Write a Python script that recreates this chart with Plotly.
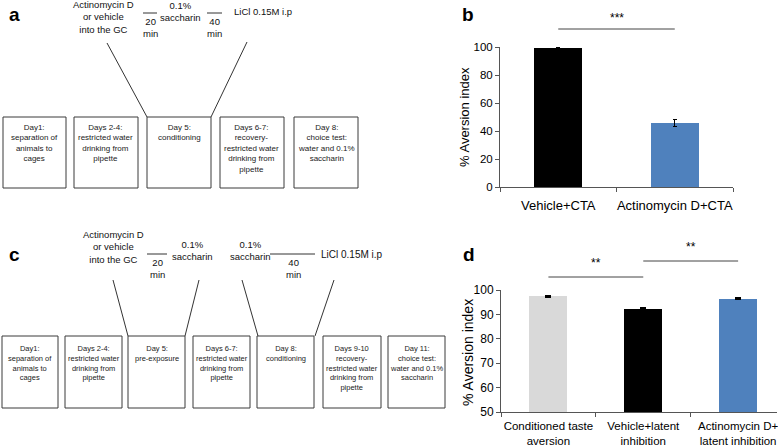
import plotly.graph_objects as go

W, H = 778, 447

# ---------------- data ----------------
b_categories = ["Vehicle+CTA", "Actinomycin D+CTA"]
b_values = [99.2, 45.5]
b_errors = [0.3, 2.5]
b_colors = ["#000000", "#4f81bd"]
b_ticks = [0, 20, 40, 60, 80, 100]

d_categories = ["Conditioned taste<br>aversion", "Vehicle+latent<br>inhibition", "Actinomycin D+<br>latent inhibition"]
d_values = [97.4, 92.4, 96.4]
d_errors = [0.25, 0.15, 0.3]
d_colors = ["#d9d9d9", "#000000", "#4f81bd"]
d_ticks = [50, 60, 70, 80, 90, 100]

a_boxes = [
    ["Day1:", "separation of", "animals to", "cages"],
    ["Days 2-4:", "restricted water", "drinking from", "pipette"],
    ["Day 5:", "conditioning"],
    ["Days 6-7:", "recovery-", "restricted water", "drinking from", "pipette"],
    ["Day 8:", "choice test:", "water and 0.1%", "saccharin"],
]
c_boxes = [
    ["Day1:", "separation of", "animals to", "cages"],
    ["Days 2-4:", "restricted water", "drinking from", "pipette"],
    ["Day 5:", "pre-exposure"],
    ["Days 6-7:", "restricted water", "drinking from", "pipette"],
    ["Day 8:", "conditioning"],
    ["Days 9-10", "recovery-", "restricted water", "drinking from", "pipette"],
    ["Day 11:", "choice test:", "water and 0.1%", "saccharin"],
]

REG = "Liberation Sans, Arial, Helvetica, sans-serif"


def px(x):
    return x / W


def py(y):
    return 1 - y / H


shapes = []
annotations = []


def line(x0, y0, x1, y1, color="#333333", width=1):
    shapes.append(dict(type="line", xref="paper", yref="paper",
                       x0=px(x0), y0=py(y0), x1=px(x1), y1=py(y1),
                       line=dict(color=color, width=width)))


def rect(x0, y0, x1, y1):
    shapes.append(dict(type="rect", xref="paper", yref="paper",
                       x0=px(x0), y0=py(y0), x1=px(x1), y1=py(y1),
                       line=dict(color="#3a3a3a", width=1), fillcolor="rgba(0,0,0,0)"))


def text(x, y, s, size=9, anchor="center", yanchor="middle", color="#111111", bold=False, angle=0):
    if bold:
        s = "<b>" + s + "</b>"
    annotations.append(dict(xref="paper", yref="paper", x=px(x), y=py(y), text=s,
                            showarrow=False, xanchor=anchor, yanchor=yanchor,
                            textangle=angle, borderpad=0,
                            font=dict(size=size, family=REG, color=color)))


def block(x, y, items, size=9, **kw):
    text(x, y, "<br>".join(items), size=size, **kw)


TOP = 9.5

# ---------------- panel a diagram ----------------
text(14, 14, "a", size=19, bold=True, color="#000")
block(104, 17, ["Actinomycin D", "or vehicle", "into the GC"], size=TOP)
line(143, 13, 157, 13)
block(150, 27, ["20", "min"], size=TOP)
block(180, 11, ["0.1%", "saccharin"], size=TOP)
line(207, 13, 222, 13)
block(214, 27, ["40", "min"], size=TOP)
text(233, 12, "LiCl 0.15M i.p", size=TOP, anchor="left")
line(107, 43, 147, 117)
line(247, 42, 211, 117)

a_x = [(3, 66), (74, 138), (147, 211), (220, 284), (294, 358)]
for (x0, x1), items in zip(a_x, a_boxes):
    rect(x0, 117, x1, 188)
    block((x0 + x1) / 2, 122, items, size=8, yanchor="top", color="#222")

# ---------------- panel c diagram ----------------
text(14, 254, "c", size=19, bold=True, color="#000")
block(113, 247, ["Actinomycin D", "or vehicle", "into the GC"], size=TOP)
line(147, 254, 167, 254)
block(157, 268, ["20", "min"], size=TOP)
block(192, 250, ["0.1%", "saccharin"], size=TOP)
block(250, 250, ["0.1%", "saccharin"], size=TOP)
line(270, 254, 315, 254)
block(293, 268, ["40", "min"], size=TOP)
text(320, 254, "LiCl 0.15M i.p", size=10, anchor="left")
line(113, 280, 128, 336)
line(199, 280, 185, 336)
line(242, 280, 258, 336)
line(334, 280, 315, 336)

c_x = [(2, 58), (65, 122), (128, 185), (193, 250), (257, 314), (323, 381), (388, 445)]
for (x0, x1), items in zip(c_x, c_boxes):
    rect(x0, 336, x1, 408)
    block((x0 + x1) / 2, 343, items, size=7.5, yanchor="top", color="#222")

# ---------------- panel b chart ----------------
text(468, 14, "b", size=19, bold=True, color="#000")
text(465, 117, "% Aversion index", size=13, color="#000", angle=-90)
shapes.append(dict(type="line", xref="x", yref="paper", x0=0, x1=1,
                   y0=py(29), y1=py(29), line=dict(color="#444", width=1)))
annotations.append(dict(xref="x", yref="paper", x=0.5, y=py(18), text="***",
                        showarrow=False, xanchor="center", yanchor="middle",
                        font=dict(size=12, family=REG, color="#000")))

# ---------------- panel d chart ----------------
text(469, 255, "d", size=19, bold=True, color="#000")
text(468, 352, "% Aversion index", size=14, color="#000", angle=-90)
shapes.append(dict(type="line", xref="x2", yref="paper", x0=0, x1=1,
                   y0=py(277), y1=py(277), line=dict(color="#444", width=1)))
annotations.append(dict(xref="x2", yref="paper", x=0.5, y=py(263), text="**",
                        showarrow=False, xanchor="center", yanchor="middle",
                        font=dict(size=12, family=REG, color="#000")))
shapes.append(dict(type="line", xref="x2", yref="paper", x0=1, x1=2,
                   y0=py(261), y1=py(261), line=dict(color="#444", width=1)))
annotations.append(dict(xref="x2", yref="paper", x=1.5, y=py(247), text="**",
                        showarrow=False, xanchor="center", yanchor="middle",
                        font=dict(size=12, family=REG, color="#000")))

fig = go.Figure()
fig.add_trace(go.Bar(x=b_categories, y=b_values, marker=dict(color=b_colors, line=dict(width=0)),
                     width=0.41,
                     error_y=dict(type="data", array=b_errors, color="#000", thickness=1, width=2),
                     xaxis="x", yaxis="y", showlegend=False))
fig.add_trace(go.Bar(x=d_categories, y=d_values, marker=dict(color=d_colors, line=dict(width=0)),
                     width=0.4,
                     error_y=dict(type="data", array=d_errors, color="#000", thickness=1.5, width=3),
                     xaxis="x2", yaxis="y2", showlegend=False))

axis_common = dict(showgrid=False, zeroline=False, showline=True, linecolor="#555",
                   linewidth=1, ticks="outside", ticklen=4, tickcolor="#555",
                   automargin=False)

fig.update_layout(
    width=W, height=H, margin=dict(l=0, r=0, t=0, b=0, autoexpand=False),
    paper_bgcolor="white", plot_bgcolor="white",
    shapes=shapes, annotations=annotations,
    xaxis=dict(domain=[px(500), px(733)], anchor="y", type="category",
               range=[-0.5, 1.5], tickson="boundaries", ticklabelstandoff=6, tickangle=0,
               tickfont=dict(size=13, family=REG, color="#000"), **axis_common),
    yaxis=dict(domain=[py(187), py(47)], anchor="x", range=[0, 100],
               tickvals=b_ticks, tickfont=dict(size=11.5, family=REG, color="#000"),
               **axis_common),
    xaxis2=dict(domain=[px(501), px(777)], anchor="y2", type="category",
                range=[-0.5, 2.41], tickson="boundaries", ticklabelstandoff=3, tickangle=0,
                tickfont=dict(size=11.5, family=REG, color="#000"), **axis_common),
    yaxis2=dict(domain=[py(412), py(290)], anchor="x2", range=[50, 100],
                tickvals=d_ticks, tickfont=dict(size=12, family=REG, color="#000"),
                **axis_common),
    bargap=0,
)

fig.write_html(
    "out.html",
    config={"displayModeBar": False},
    post_script="document.body.style.margin='0';document.body.style.overflow='hidden';",
)
